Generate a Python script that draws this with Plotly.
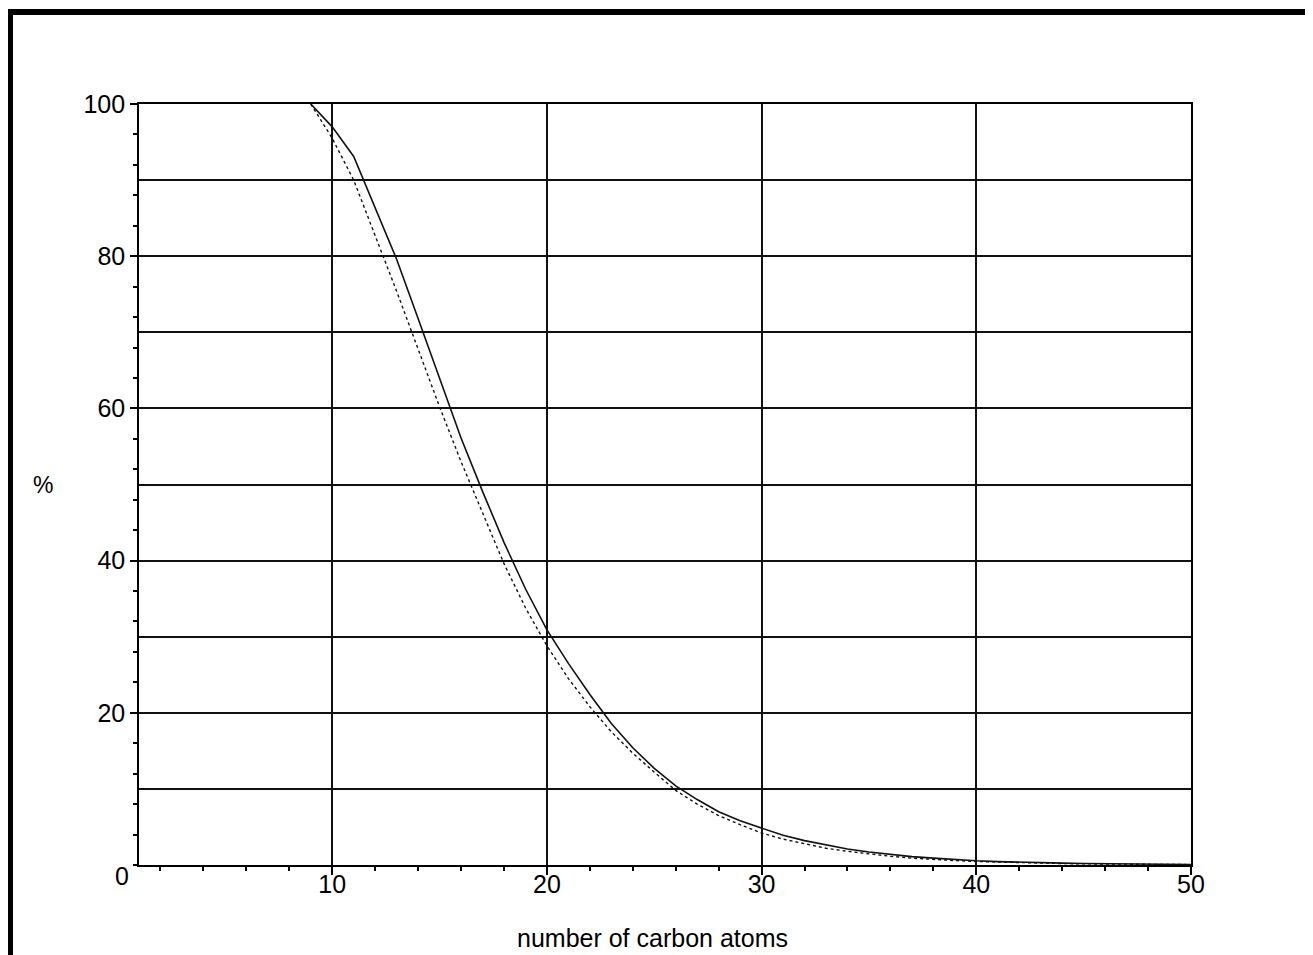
import plotly.graph_objects as go

# number of carbon atoms
carbon = list(range(9, 51))

# solid curve (%)
solid_pct = [100, 97.0, 93.1, 86.3, 79.6, 71.8, 64.0, 56.1, 49.1, 42.4,
             36.3, 30.9, 26.5, 22.4, 18.6, 15.4, 12.7, 10.4, 8.6, 7.0,
             5.8, 4.8, 3.9, 3.2, 2.6, 2.1, 1.7, 1.4, 1.1, 0.9,
             0.7, 0.55, 0.45, 0.36, 0.3, 0.24, 0.2, 0.16, 0.13, 0.1,
             0.08, 0.07]

# dashed curve (%)
dashed_pct = [100, 95.5, 90.0, 82.8, 75.4, 67.8, 60.2, 53.0, 46.2, 39.6,
              33.8, 28.8, 24.5, 20.8, 17.5, 14.7, 12.2, 9.8, 8.0, 6.5,
              5.3, 4.2, 3.4, 2.8, 2.2, 1.8, 1.45, 1.15, 0.9, 0.72,
              0.58, 0.46, 0.37, 0.3, 0.24, 0.19, 0.15, 0.12, 0.1, 0.08,
              0.06, 0.05]

FONT = "Liberation Sans, Arial, sans-serif"
OFF = 8  # page body margin
W, H = 1313 - OFF, 955 - OFF
# plot area in page pixels: x 139..1191, y 104..865
L, R, T, B = 139 - OFF, (OFF + W) - 1191, 104 - OFF, (OFF + H) - 865
PW, PH = W - L - R, H - T - B


def px_x(p):
    return (p - OFF - L) / PW


def px_y(p):
    return (H - B - (p - OFF)) / PH


fig = go.Figure()
fig.add_trace(go.Scatter(x=carbon, y=dashed_pct, mode="lines",
                         line=dict(color="#111", width=1.4, dash="3px,3px"),
                         yaxis="y2", showlegend=False))
fig.add_trace(go.Scatter(x=carbon, y=solid_pct, mode="lines",
                         line=dict(color="#111", width=1.6),
                         showlegend=False))

axis_common = dict(linecolor="black", linewidth=1.6, tickcolor="black",
                   tickwidth=1.5, zeroline=False)

fig.update_layout(
    width=W, height=H,
    margin=dict(l=L, r=R, t=T, b=B, pad=0),
    paper_bgcolor="white", plot_bgcolor="white",
    font=dict(family=FONT, size=25, color="black"),
    xaxis=dict(range=[1, 50], dtick=10, tick0=0, showgrid=True,
               gridcolor="#111", gridwidth=1.6,
               ticks="outside", ticklen=8, showline=True, mirror=True,
               ticklabelstandoff=-12,
               tickfont=dict(size=25, family=FONT, color="black"),
               minor=dict(dtick=2, tick0=0, ticks="outside", ticklen=4,
                          tickcolor="black", tickwidth=1.5, showgrid=False),
               **axis_common),
    yaxis=dict(range=[0, 100], dtick=10, tick0=0, showgrid=True,
               gridcolor="#111", gridwidth=1.6, ticks="",
               showticklabels=False, showline=True, mirror=True,
               **axis_common),
    yaxis2=dict(range=[0, 100], overlaying="y", side="left",
                tickvals=[20, 40, 60, 80, 100], showgrid=False,
                ticks="outside", ticklen=7, showline=True,
                tickfont=dict(size=25, family=FONT, color="black"),
                minor=dict(dtick=4, tick0=0, ticks="outside", ticklen=4,
                           tickcolor="black", tickwidth=1.5, showgrid=False),
                **axis_common),
    shapes=[dict(type="rect", xref="paper", yref="paper",
                 x0=px_x(10), x1=px_x(1340), y0=px_y(12), y1=px_y(990),
                 line=dict(color="black", width=6), fillcolor="rgba(0,0,0,0)",
                 layer="above")],
    annotations=[
        dict(text="0", xref="paper", yref="paper", x=px_x(121.5), y=px_y(876),
             xanchor="center", yanchor="middle", showarrow=False,
             font=dict(size=25, family=FONT, color="black")),
        dict(text="%", xref="paper", yref="paper", x=px_x(43), y=px_y(485),
             xanchor="center", yanchor="middle", showarrow=False,
             font=dict(size=23, family=FONT, color="black")),
        dict(text="number of carbon atoms", xref="paper", yref="paper",
             x=px_x(652), y=px_y(938), xanchor="center", yanchor="middle",
             showarrow=False, font=dict(size=25, family=FONT, color="black")),
    ],
)

fig.write_html("out.html")
